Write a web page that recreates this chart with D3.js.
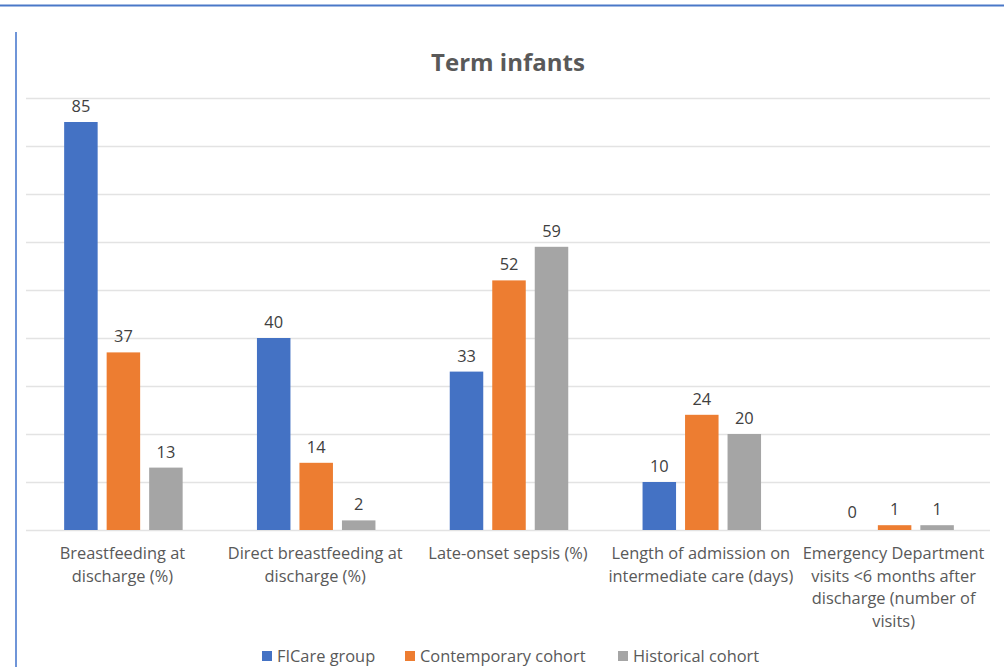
<!DOCTYPE html>
<html><head><meta charset="utf-8">
<script src="https://cdn.jsdelivr.net/npm/d3@7"></script>
<style>body{margin:0;background:#fff}svg{display:block}</style>
</head><body>
<script>
const categories = [
  ["Breastfeeding at", "discharge (%)"],
  ["Direct breastfeeding at", "discharge (%)"],
  ["Late-onset sepsis (%)"],
  ["Length of admission on", "intermediate care (days)"],
  ["Emergency Department", "visits <6 months after", "discharge (number of", "visits)"]
];
const seriesNames = ["FICare group", "Contemporary cohort", "Historical cohort"];
const ficare = [85, 40, 33, 10, 0];
const contemporary = [37, 14, 52, 24, 1];
const historical = [13, 2, 59, 20, 1];
const yTicks = [0, 10, 20, 30, 40, 50, 60, 70, 80, 90];
const colors = ["#4472C4", "#ED7D31", "#A5A5A5"];
const title = "Term infants";

const W = 1004, H = 667;
const svg = d3.select("body").append("svg").attr("width", W).attr("height", H);
const font = "'Open Sans', 'Noto Sans', sans-serif";
const fs = 16.4;

// frame lines
svg.append("line").attr("x1", 0).attr("x2", W).attr("y1", 5.5).attr("y2", 5.5)
  .attr("stroke", "#4a78c8").attr("stroke-width", 2);
svg.append("line").attr("x1", 16).attr("x2", 16).attr("y1", 32).attr("y2", H)
  .attr("stroke", "#6f95d8").attr("stroke-width", 2);

const x0 = d3.scaleBand().domain(d3.range(categories.length)).range([26, 990]).padding(0);
const y = d3.scaleLinear().domain([0, 90]).range([530, 98]);

// gridlines
svg.append("g").selectAll("line").data(yTicks).join("line")
  .attr("x1", 26).attr("x2", 990)
  .attr("y1", d => Math.round(y(d)) + 0.5).attr("y2", d => Math.round(y(d)) + 0.5)
  .attr("stroke", "#e3e3e3").attr("stroke-width", 1.3);

// title
svg.append("text").attr("x", 508).attr("y", 71).attr("text-anchor", "middle")
  .attr("font-family", font).attr("font-size", 24).attr("font-weight", "bold")
  .attr("fill", "#595959").text(title);

const series = [ficare, contemporary, historical];
const barW = 33.5, step = 42.5;
series.forEach((vals, si) => {
  const g = svg.append("g");
  vals.forEach((v, ci) => {
    const cx = x0(ci) + x0.bandwidth() / 2 + 1 + (si - 1) * step;
    if (v > 0) {
      g.append("rect").attr("x", cx - barW / 2).attr("width", barW)
        .attr("y", y(v)).attr("height", y(0) - y(v)).attr("fill", colors[si]);
    }
    g.append("text").attr("x", cx).attr("y", y(v) - 10 + (v === 0 ? -2 : 0))
      .attr("text-anchor", "middle").attr("font-family", font).attr("font-size", fs)
      .attr("fill", "#404040").text(v);
  });
});

// category labels
categories.forEach((lines, ci) => {
  const cx = x0(ci) + x0.bandwidth() / 2;
  const t = svg.append("text").attr("text-anchor", "middle").attr("font-family", font)
    .attr("font-size", fs).attr("fill", "#595959");
  lines.forEach((l, li) => {
    t.append("tspan").attr("x", cx).attr("y", 559 + li * 22.5).text(l);
  });
});

// legend
const legendX = [262, 405, 618];
seriesNames.forEach((n, i) => {
  svg.append("rect").attr("x", legendX[i]).attr("y", 651).attr("width", 10).attr("height", 10)
    .attr("fill", colors[i]);
  svg.append("text").attr("x", legendX[i] + 15).attr("y", 662).attr("font-family", font)
    .attr("font-size", fs).attr("fill", "#595959").text(n);
});
</script>
</body></html>
